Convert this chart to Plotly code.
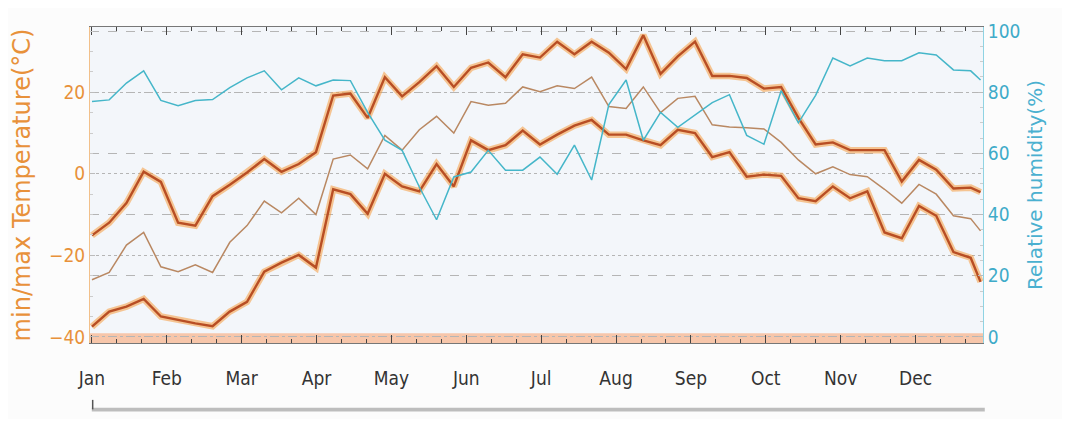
import plotly.graph_objects as go

# weekly values, x = day of year (last point is the year-end drop)
days = [7 * i for i in range(52)] + [361]

max_temp = [-15.1, -12, -7.2, 0.5, -2, -12, -12.7, -5.5, -2.7, 0.3, 3.6, 0.5, 2.4, 5.3,
            19.2, 19.7, 13.7, 23.7, 19, 22.5, 26.4, 21.3, 26, 27.3, 23.7, 29.3,
            28.5, 32.4, 29.3, 32.4, 29.7, 25.7, 34, 24.5, 28.8, 32.4, 24, 24, 23.5,
            20.9, 21.3, 13.7, 7.2, 7.7, 5.8, 5.8, 5.8, -1.9, 3.4, 1, -3.6, -3.4, -4.5]
min_temp = [-37.5, -33.8, -32.6, -30.7, -35, -35.9, -36.7, -37.4, -33.8, -31.4, -24, -21.8, -19.9, -23,
            -3.8, -5, -9.8, 0, -3.1, -4.3, 2.4, -3.1, 8.2, 5.8, 7, 10.6,
            7.2, 9.6, 11.8, 13.2, 9.6, 9.6, 8.2, 7, 10.8, 10, 4.1, 5.3, -0.7,
            -0.2, -0.5, -6, -6.7, -3.1, -6, -4.3, -14.4, -15.8, -7.9, -10.3, -19.2, -20.6, -26.5]
mean_temp = [-26, -24.2, -17.5, -14.4, -22.8, -24, -22.3, -24.2, -16.8, -12.7, -6.7, -9.6, -6, -10,
             3.6, 4.6, 1.2, 9.4, 5.8, 10.8, 14.1, 10, 17.7, 16.8, 17.3, 21.3,
             20.1, 21.6, 20.9, 23.7, 16.5, 16, 21.3, 15, 18.5, 19, 12, 11.5, 11.3,
             11, 7.7, 3.4, 0, 1.7, -0.2, -0.7, -3.8, -7.2, -2.6, -5, -10.3, -11, -14]
humidity = [77, 77.5, 83, 87, 77.3, 75.6, 77.3, 77.6, 81.5, 84.7, 87, 80.8, 84.7, 82.1,
            84, 83.8, 73.4, 64.3, 61, 49, 38.3, 52.3, 53.9, 61, 54.5, 54.5,
            58.8, 53.2, 62.7, 51.3, 76, 84, 64.3, 73.4, 68.5, 72.4, 76.6, 79.2, 65.9,
            63, 80.5, 70, 79, 91.2, 88.6, 91.2, 90.3, 90.3, 92.9, 92.2, 87.3, 87, 84]

months = ["Jan", "Feb", "Mar", "Apr", "May", "Jun", "Jul", "Aug", "Sep", "Oct", "Nov", "Dec"]
month_pos = [m * 365 / 12 for m in range(12)]

ORANGE = "#e8913a"
CYAN = "#3fabc9"
FONT = "DejaVu Sans Condensed, DejaVu Sans"

fig = go.Figure()

fig.add_trace(go.Scatter(x=days, y=humidity, yaxis="y2", mode="lines",
                         line=dict(color="#45b6c9", width=1.5), hoverinfo="skip"))
fig.add_trace(go.Scatter(x=days, y=mean_temp, mode="lines",
                         line=dict(color="#b98862", width=1.5)))
for series in (max_temp, min_temp):
    # orange glow under a darker core
    fig.add_trace(go.Scatter(x=days, y=series, mode="lines",
                             line=dict(color="rgba(245,155,60,0.55)", width=6.5)))
    fig.add_trace(go.Scatter(x=days, y=series, mode="lines",
                             line=dict(color="#b84e24", width=2.4)))

# page body has an 8px margin, so the figure is sized to sit inside it
fig.update_layout(
    width=1054, height=411,
    margin=dict(l=75, r=79, t=12, b=76),
    paper_bgcolor="#fcfcfc", plot_bgcolor="#f3f6fa",
    showlegend=False,
    font=dict(family=FONT),
    xaxis=dict(range=[-0.8, 362], tickmode="array", tickvals=month_pos, ticktext=months,
               ticks="inside", ticklen=8, tickcolor="#444", showline=True, linecolor="#777",
               mirror="ticks", showgrid=False, zeroline=False, ticklabelstandoff=18,
               tickfont=dict(size=19, color="#333", family=FONT),
               minor=dict(tickmode="linear", tick0=0, dtick=365 / 36, ticks="inside",
                          ticklen=4, tickcolor="#444", showgrid=False)),
    yaxis=dict(range=[-41.5, 36], tick0=0, dtick=20, ticks="inside", ticklen=5,
               tickcolor="#bbb", showline=True, linecolor="#f2c08a", zeroline=False,
               showgrid=True, gridcolor="#b5b5b5", griddash="dot",
               tickfont=dict(size=19, color=ORANGE, family=FONT),
               minor=dict(dtick=5, ticks="inside", ticklen=3, tickcolor="#ccc", showgrid=False),
               title=dict(text="min/max Temperature(°C)", standoff=12,
                          font=dict(size=24, color=ORANGE, family="DejaVu Sans"))),
    yaxis2=dict(range=[-2, 101.333], overlaying="y", side="right", tick0=0, dtick=20,
                ticks="inside", ticklen=5, tickcolor="#bbb", showline=True,
                linecolor="#8fd3e3", zeroline=False, showgrid=True,
                gridcolor="#b5b5b5", griddash="dash",
                tickfont=dict(size=19, color=CYAN, family=FONT),
                minor=dict(dtick=5, ticks="inside", ticklen=3, tickcolor="#ccc", showgrid=False),
                title=dict(text="Relative humidity(%)", standoff=8,
                           font=dict(size=20, color="#4ab0d0", family="DejaVu Sans"))),
    shapes=[
        dict(type="rect", xref="paper", yref="paper", x0=0, x1=1, y0=0, y1=0.031,
             fillcolor="#f7c6aa", line=dict(width=0), layer="below"),
        dict(type="rect", xref="paper", yref="paper", x0=0.002, x1=1.002, y0=-0.217, y1=-0.205,
             fillcolor="#bdbdbd", line=dict(width=0)),
        dict(type="line", xref="paper", yref="paper", x0=0.003, x1=0.003, y0=-0.21, y1=-0.18,
             line=dict(color="#555", width=1.5)),
    ],
)

fig.write_html("out.html")
